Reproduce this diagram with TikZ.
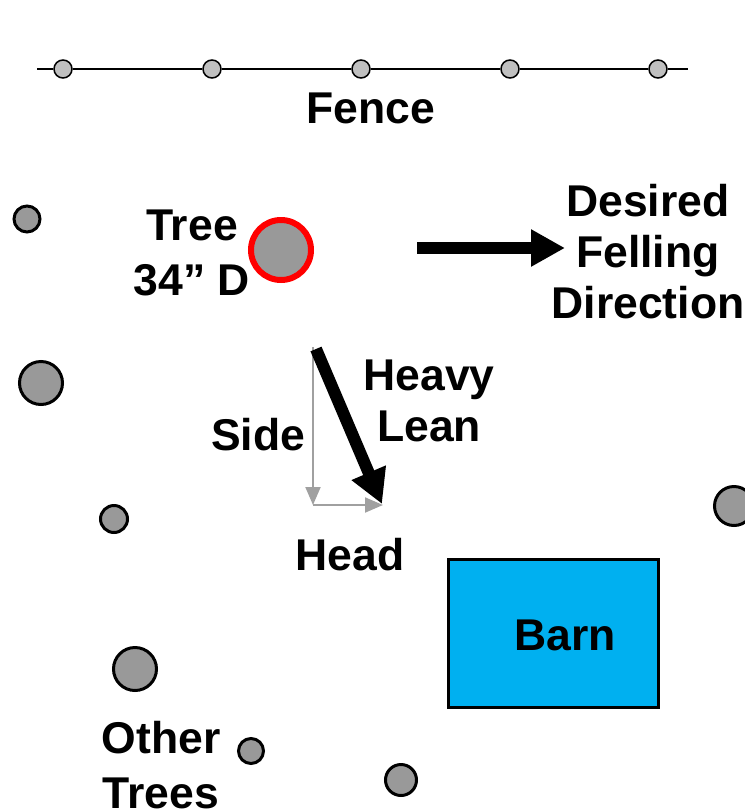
\documentclass[tikz,border=0pt]{standalone}
\usepackage{fontspec}
\setmainfont{Liberation Sans}
\usepackage{tikz}
\usetikzlibrary{arrows.meta}
\definecolor{treegray}{HTML}{999999}
\definecolor{postgray}{HTML}{C0C0C0}
\definecolor{barnblue}{HTML}{00B0F0}
\definecolor{vecgray}{HTML}{A0A0A0}

\begin{document}
\begin{tikzpicture}[x=1pt,y=-1pt,
    lbl/.style={font=\bfseries\fontsize{44.5}{51}\selectfont,align=center,anchor=base,inner sep=0pt},
    post/.style={circle,draw,line width=1.5pt,fill=postgray,minimum size=18pt,inner sep=0pt},
    other/.style={circle,draw,line width=3pt,fill=treegray,minimum size=#1,inner sep=0pt},
    bigarrow/.style={line width=12pt,-{Triangle[length=34pt,width=35pt]}},
    partarrow/.style={vecgray,line width=2pt,-{Triangle[length=18pt,width=15pt]}}]
      \useasboundingbox (0,0) rectangle (745,812);

      \coordinate (fenceL) at (37,69);
      \coordinate (fenceR) at (688,69);
      \foreach \x [count=\i] in {63,212,361,510,658}
        \node[post] (p\i) at (\x,69) {};
      \draw[line width=2pt] (fenceL) -- (p1) -- (p2) -- (p3) -- (p4) -- (p5) -- (fenceR);
      \node[lbl] (fence) at (371,123) {Fence};

      \node[circle,draw=red,line width=6pt,fill=treegray,minimum size=60pt,inner sep=0pt] (tree) at (281,250) {};
      \node[lbl] (treelbl) at (192,295) {Tree\\[4pt]34” D};

      \coordinate (fellS) at (417,248);
      \coordinate (fellE) at (565,248);
      \node[lbl] (fell) at (648,318) {Desired\\Felling\\Direction};

      \coordinate (leanS) at (316,349);
      \coordinate (leanE) at (382,504);
      \coordinate (sideS) at (313,347);
      \coordinate (corner) at (313,505);
      \coordinate (headE) at (383,505);
      \node[lbl] (lean) at (429,441) {Heavy\\Lean};
      \node[lbl] (side) at (258,450) {Side};
      \node[lbl] (head) at (350,570) {Head};

      \node[other=26pt] (o1) at (27,219) {};
      \node[other=43pt] (o2) at (41,383) {};
      \node[other=27pt] (o3) at (114,519) {};
      \node[other=43pt] (o4) at (135,669) {};
      \node[other=25pt] (o5) at (251,751) {};
      \node[other=31pt] (o6) at (401,780) {};
      \node[other=39pt] (o7) at (734,506) {};
      \node[lbl] (others) at (161,808) {Other\\[4pt]Trees};

      \node[draw,line width=3pt,fill=barnblue,minimum width=210pt,minimum height=148pt,inner sep=0pt,anchor=north west] (barn) at (447,558) {};
      \node[lbl] (barnlbl) at (565,650) {Barn};

      \path[partarrow]
      (sideS) edge (corner)
      (corner) edge (headE);

      \path[bigarrow]
      (fellS) edge (fellE)
      (leanS) edge (leanE);
    \end{tikzpicture}
\end{document}
